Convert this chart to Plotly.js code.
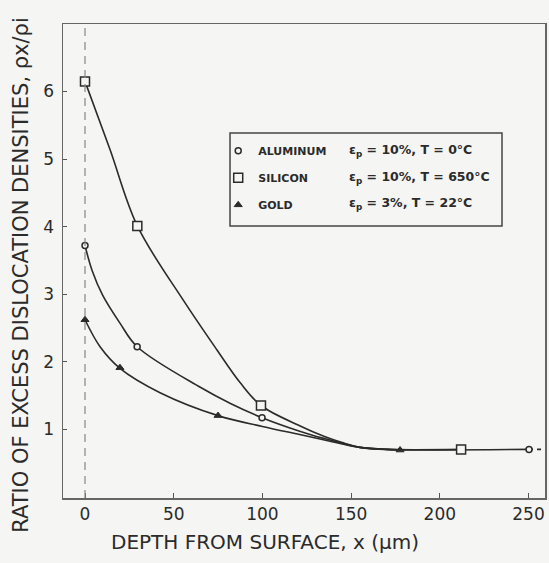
<!DOCTYPE html>
<html>
<head>
<meta charset="utf-8">
<script src="https://cdn.plot.ly/plotly-3.0.1.min.js"></script>
<style>html,body{margin:0;padding:0;background:#f5f5f3;}#chart{width:549px;height:563px;}</style>
</head>
<body>
<div id="chart"></div>
<script>
// ---- data ----
const materials = ["ALUMINUM", "SILICON", "GOLD"];
const conditions = ["ε<sub>p</sub> = 10%, T = 0°C", "ε<sub>p</sub> = 10%, T = 650°C", "ε<sub>p</sub> = 3%, T = 22°C"];

const aluminumX = [0, 29.4, 99.8, 250.3];
const aluminumY = [3.72, 2.22, 1.17, 0.70];
const siliconX = [0, 29.5, 99.2, 212];
const siliconY = [6.15, 4.01, 1.35, 0.70];
const goldX = [0, 19.7, 75, 177.6];
const goldY = [2.62, 1.91, 1.20, 0.69];

// hand-drawn curves
const aluminumCurveX = [0, 4, 10, 19.7, 29.4, 65, 82, 99.8, 121, 135, 145, 155, 170, 250.3];
const aluminumCurveY = [3.72, 3.35, 2.98, 2.57, 2.22, 1.62, 1.38, 1.17, 0.97, 0.86, 0.79, 0.73, 0.70, 0.70];
const siliconCurveX = [0, 14, 29.5, 55.4, 74.2, 87.4, 99.2, 121, 135, 145, 155, 170, 212];
const siliconCurveY = [6.15, 5.15, 4.01, 2.91, 2.18, 1.69, 1.35, 1.05, 0.89, 0.80, 0.73, 0.70, 0.70];
const goldCurveX = [0, 8.5, 19.7, 42.3, 75, 100, 121, 135, 145, 155, 170, 177.6];
const goldCurveY = [2.62, 2.22, 1.90, 1.54, 1.20, 1.04, 0.92, 0.84, 0.78, 0.73, 0.70, 0.69];
const tailX = [250.3, 259.3];
const tailY = [0.70, 0.70];

const xTicks = [0, 50, 100, 150, 200, 250];
const yTicks = [1, 2, 3, 4, 5, 6];
const xRange = [-12.4, 259.3];
const yRange = [-0.02, 7.0];
const surfaceX = 0;

// ---- styles ----
const ink = "#2b2b2b";
const bg = "#f5f5f3";
const font = "DejaVu Sans, Liberation Sans, sans-serif";
const curveLine = {color: ink, width: 1.6, shape: "spline", smoothing: 1};

const traces = [
  {x: aluminumCurveX, y: aluminumCurveY, mode: "lines", line: curveLine, showlegend: false, hoverinfo: "skip"},
  {x: siliconCurveX, y: siliconCurveY, mode: "lines", line: curveLine, showlegend: false, hoverinfo: "skip"},
  {x: goldCurveX, y: goldCurveY, mode: "lines", line: curveLine, showlegend: false, hoverinfo: "skip"},
  {x: tailX, y: tailY, mode: "lines", line: {color: ink, width: 1.6, dash: "4px,4px"}, showlegend: false, hoverinfo: "skip"},
  {x: aluminumX, y: aluminumY, mode: "markers", name: materials[0], legendgroup: "a",
   marker: {symbol: "circle", size: 6, color: bg, line: {color: ink, width: 1.5}}},
  {x: siliconX, y: siliconY, mode: "markers", name: materials[1], legendgroup: "b",
   marker: {symbol: "square", size: 9, color: bg, line: {color: ink, width: 1.5}}},
  {x: goldX, y: goldY, mode: "markers", name: materials[2], legendgroup: "c",
   marker: {symbol: "triangle-up", size: 7, color: ink, line: {color: ink, width: 1}}}
];

const rowY = [0.733, 0.676, 0.621];
const annotations = conditions.map((t, i) => ({
  xref: "paper", yref: "paper", x: 0.589, y: rowY[i], xanchor: "left", yanchor: "middle",
  text: t, showarrow: false, font: {family: font, size: 12.5, color: ink, weight: "bold"}
}));
annotations.push({
  xref: "paper", yref: "paper", x: -0.086, y: 0.47, xanchor: "center", yanchor: "middle",
  textangle: -90, showarrow: false,
  text: "RATIO OF EXCESS DISLOCATION DENSITIES, ρx/ρi",
  font: {family: font, size: 21, color: ink}
});
annotations.push({
  xref: "paper", yref: "paper", x: 0.419, y: -0.093, xanchor: "center", yanchor: "middle",
  showarrow: false,
  text: "DEPTH FROM SURFACE, x (μm)",
  font: {family: font, size: 20, color: ink}
});

const layout = {
  width: 549, height: 563,
  margin: {l: 63, r: 4, t: 24, b: 65},
  paper_bgcolor: bg, plot_bgcolor: bg,
  font: {family: font, color: ink},
  showlegend: true,
  legend: {x: 0.322, y: 0.763, xanchor: "left", yanchor: "top", bgcolor: "rgba(0,0,0,0)",
           borderwidth: 0, tracegroupgap: 8, font: {family: font, size: 11, color: ink, weight: "bold"}},
  xaxis: {range: xRange, tickvals: xTicks, ticks: "inside", ticklen: 5, tickcolor: "#555",
          showgrid: false, zeroline: false, showline: true, mirror: true, linecolor: "#666", linewidth: 1.5,
          tickfont: {family: font, size: 17, color: ink}},
  yaxis: {range: yRange, tickvals: yTicks, ticks: "inside", ticklen: 4, tickcolor: "#555",
          showgrid: false, zeroline: false, showline: true, mirror: true, linecolor: "#666", linewidth: 1.5,
          ticklabelstandoff: 4,
          tickfont: {family: font, size: 17, color: ink}},
  shapes: [
    {type: "line", xref: "x", yref: "paper", x0: surfaceX, x1: surfaceX, y0: 0, y1: 1,
     line: {color: "#888", width: 1.2, dash: "8px,6px"}},
    {type: "rect", xref: "paper", yref: "paper", x0: 0.3465, x1: 0.9108, y0: 0.5738, y1: 0.770,
     line: {color: "#444", width: 1.5}}
  ],
  annotations: annotations
};

Plotly.newPlot("chart", traces, layout, {displayModeBar: false, staticPlot: true});
</script>
</body>
</html>
